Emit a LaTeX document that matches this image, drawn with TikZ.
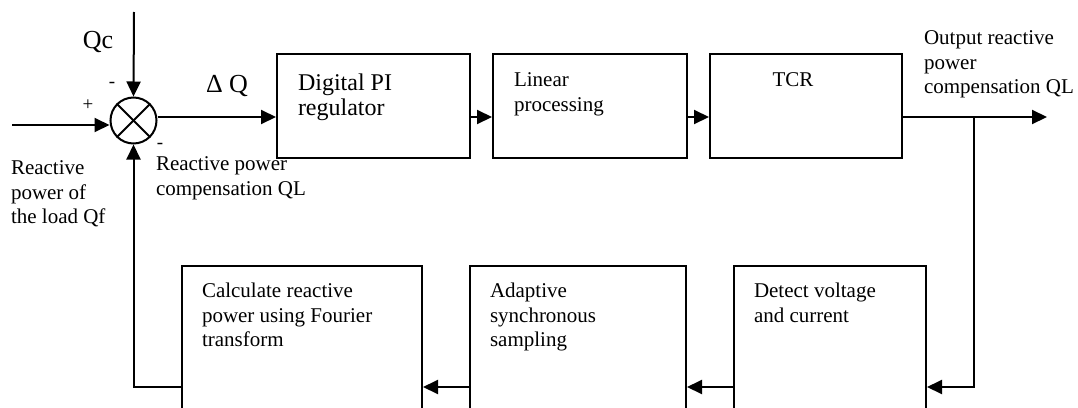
\documentclass[tikz,border=0pt]{standalone}
\usepackage{fontspec}
\setmainfont{Liberation Serif}
\usetikzlibrary{arrows.meta}

\begin{document}
\begin{tikzpicture}[x=1pt,y=-1pt,line width=2pt,
	blk/.style={draw,rectangle,inner sep=0pt},
	txt/.style={inner sep=0pt,align=left,anchor=north west,font=\fontsize{21}{24.5}\selectfont},
	sign/.style={inner sep=0pt,font=\fontsize{19}{22}\selectfont},
	flow/.style={-{Triangle[length=15pt,width=14pt]}}]
		\useasboundingbox (0,0) rectangle (1078,407);
		\clip (0,0) rectangle (1078,407);
		\coordinate (row) at (0,117);
		\coordinate (fb) at (0,387);
		\node[draw,circle,minimum size=46pt,inner sep=0pt] (sum) at (133.5,120.5) {};
		\draw (sum.north west) -- (sum.south east);
		\draw (sum.north east) -- (sum.south west);
		\node[blk,minimum width=193pt,minimum height=104pt] (pi) at (373.5,106) {};
		\node[blk,minimum width=194pt,minimum height=104pt] (lin) at (590,106) {};
		\node[blk,minimum width=192pt,minimum height=104pt] (tcr) at (806,106) {};
		\node[blk,minimum width=240pt,minimum height=200pt] (calc) at (302,366) {};
		\node[blk,minimum width=216pt,minimum height=200pt] (ada) at (578,366) {};
		\node[blk,minimum width=192pt,minimum height=200pt] (det) at (830,366) {};
		\node[txt,font=\fontsize{24}{25}\selectfont] (pitext) at ([xshift=21pt,yshift=-20pt]pi.north west) {Digital PI\\regulator};
		\node[txt] (lintext) at ([xshift=21pt,yshift=-19pt]lin.north west) {Linear\\processing};
		\node[txt,anchor=center] (tcrtext) at (793,80) {TCR};
		\node[txt] (calctext) at ([xshift=20pt,yshift=-17pt]calc.north west) {Calculate reactive\\power using Fourier\\transform};
		\node[txt] (adatext) at ([xshift=20pt,yshift=-17pt]ada.north west) {Adaptive\\synchronous\\sampling};
		\node[txt] (dettext) at ([xshift=20pt,yshift=-17pt]det.north west) {Detect voltage\\and current};
		\node[txt] (qftext) at (10,160) {Reactive\\power of\\the load Qf};
		\node[txt] (qltext) at (155,156) {Reactive power\\compensation QL};
		\node[txt] (outtext) at (923,30) {Output reactive\\power\\compensation QL};
		\node[inner sep=0pt,font=\fontsize{26}{30}\selectfont] (qc) at (98,42) {Qc};
		\node[inner sep=0pt,font=\fontsize{26}{30}\selectfont] (dq) at (227,86) {Δ Q};
		\node[sign] (plus) at (88,105) {+};
		\node[sign] (minqc) at (112,85) {-};
		\node[sign] (minql) at (160,146) {-};
		\coordinate (qcin) at (134,12);
		\coordinate (qfin) at (12,125);
		\coordinate (tap) at (974,117);
		\coordinate (out) at (1047,117);
		\draw[flow] (qcin) -- (sum.north);
		\draw[flow] (qfin) -- (qfin -| sum.west);
		\draw[flow] (sum.east |- row) -- (pi.west |- row);
		\draw[flow] (pi.east |- row) -- (lin.west |- row);
		\draw[flow] (lin.east |- row) -- (tcr.west |- row);
		\draw[flow] (tcr.east |- row) -- (out);
		\draw[flow] (tap) |- (det.east |- fb);
		\draw[flow] (det.west |- fb) -- (ada.east |- fb);
		\draw[flow] (ada.west |- fb) -- (calc.east |- fb);
		\draw[flow] (calc.west |- fb) -| (sum.south);
	\end{tikzpicture}
\end{document}
